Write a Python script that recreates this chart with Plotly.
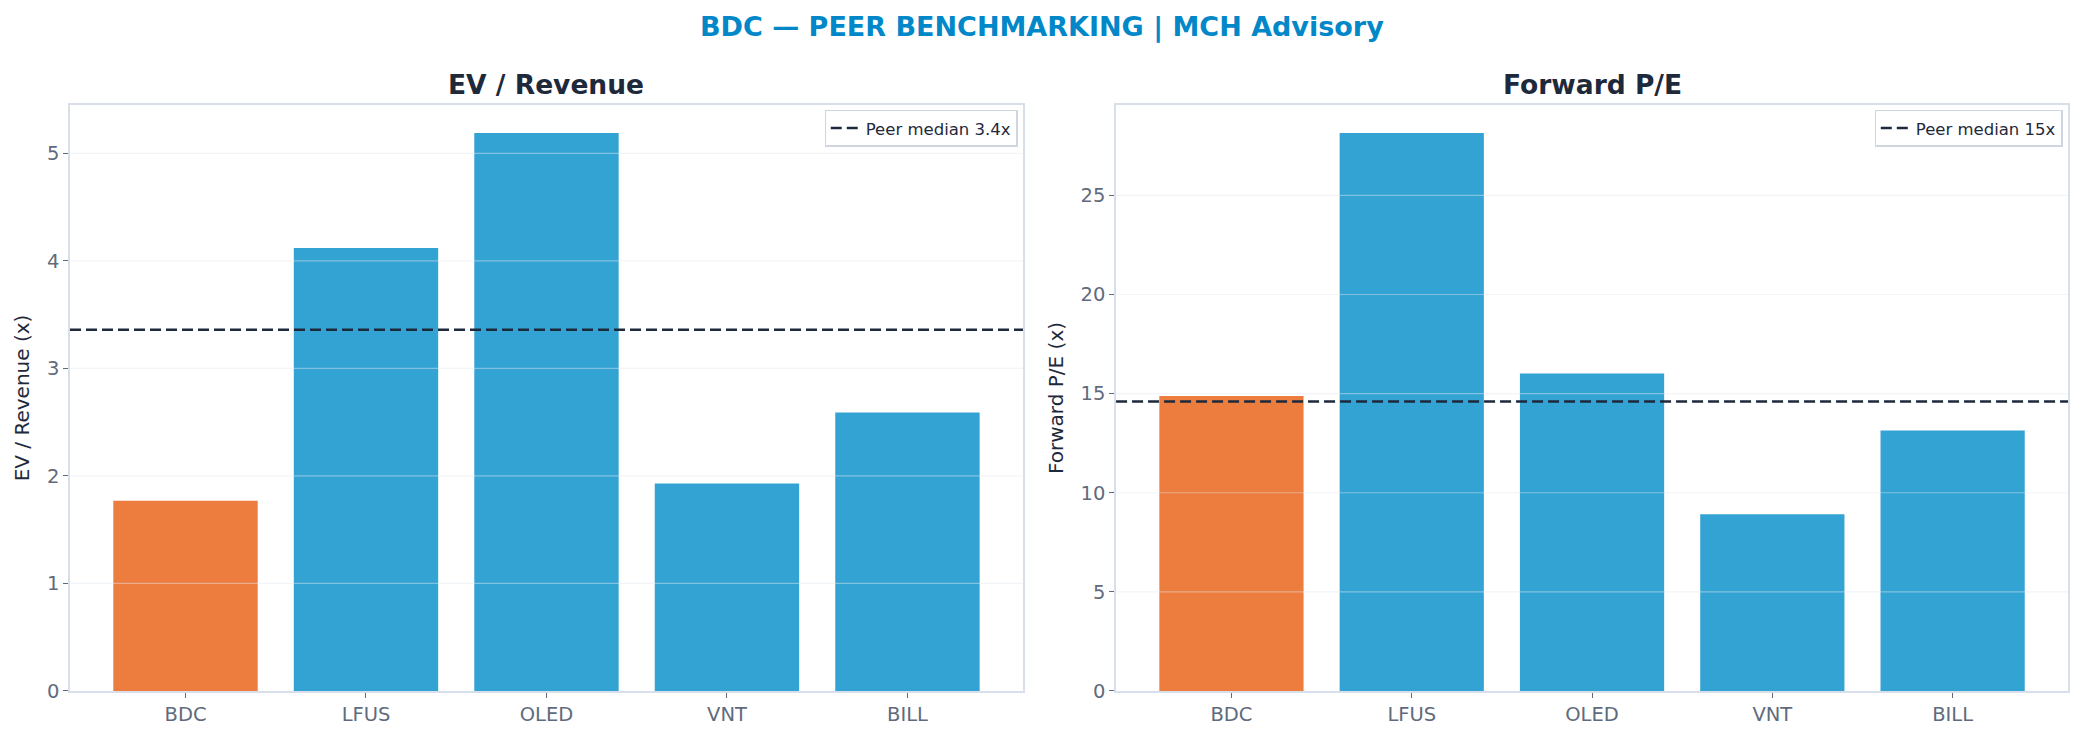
import numpy as np
import plotly.graph_objects as go
from plotly.subplots import make_subplots

tickers = ["BDC", "LFUS", "OLED", "VNT", "BILL"]
ev_revenue = [1.77, 4.12, 5.19, 1.93, 2.59]
fwd_pe = [14.88, 28.15, 16.02, 8.91, 13.14]
ev_median = 3.36
pe_median = 14.6
ev_median_label = "Peer median 3.4x"
pe_median_label = "Peer median 15x"

ORANGE = "#ED7D3E"
BLUE = "#33A3D3"
DARK = "#1e293b"
TICK = "#5f6b7d"
SPINE = "#d8dfea"
FONT = "DejaVu Sans"
DASH = "11px,5px"

fig = make_subplots(rows=1, cols=2)

colors = [ORANGE if t == "BDC" else BLUE for t in tickers]
fig.add_trace(go.Bar(x=tickers, y=ev_revenue, marker=dict(color=colors, line=dict(width=0)),
                     width=0.8, showlegend=False), row=1, col=1)
fig.add_trace(go.Bar(x=tickers, y=fwd_pe, marker=dict(color=colors, line=dict(width=0)),
                     width=0.8, showlegend=False), row=1, col=2)

fig.add_trace(go.Scatter(x=[None], y=[None], mode="lines", name=ev_median_label,
                         line=dict(color=DARK, dash=DASH, width=2.5), legend="legend"), row=1, col=1)
fig.add_trace(go.Scatter(x=[None], y=[None], mode="lines", name=pe_median_label,
                         line=dict(color=DARK, dash=DASH, width=2.5), legend="legend2"), row=1, col=2)

for xr, yr, med in [("x", "y", ev_median), ("x2", "y2", pe_median)]:
    fig.add_shape(type="line", xref=f"{xr} domain", yref=yr, x0=0, x1=1, y0=med, y1=med,
                  line=dict(color=DARK, dash=DASH, width=2.5), layer="above")

ymax1 = max(ev_revenue) * 1.05
ymax2 = max(fwd_pe) * 1.05
n = len(tickers)
xrange_ = [-0.4 - 0.05 * (n - 0.2), n - 1 + 0.4 + 0.05 * (n - 0.2)]

for yr, ymax, dt in [("y", ymax1, 1), ("y2", ymax2, 5)]:
    for v in np.arange(dt, ymax, dt):
        fig.add_shape(type="line", xref=("x domain" if yr == "y" else "x2 domain"), yref=yr,
                      x0=0, x1=1, y0=v, y1=v,
                      line=dict(color="rgba(226,232,240,0.45)", width=1.2), layer="above")

axis_common = dict(showline=True, linecolor=SPINE, linewidth=1.5, mirror=True,
                   ticks="outside", ticklen=5, tickcolor=TICK, tickwidth=1.2,
                   tickfont=dict(family=FONT, size=19.5, color=TICK), showgrid=False, zeroline=False,
                   automargin=False)

Y0, Y1 = 0.0675, 0.8583

fig.update_layout(
    width=2083, height=741,
    margin=dict(l=0, r=0, t=0, b=0, autoexpand=False),
    paper_bgcolor="white", plot_bgcolor="white",
    font=dict(family=FONT),
    xaxis=dict(domain=[0.0336, 0.4911], range=xrange_, **axis_common),
    xaxis2=dict(domain=[0.5358, 0.9928], range=xrange_, **axis_common),
    yaxis=dict(domain=[Y0, Y1], range=[0, ymax1], dtick=1,
               title=dict(text="EV / Revenue (x)", font=dict(family=FONT, size=20, color=DARK), standoff=12),
               **axis_common),
    yaxis2=dict(domain=[Y0, Y1], range=[0, ymax2], dtick=5,
                title=dict(text="Forward P/E (x)", font=dict(family=FONT, size=20, color=DARK), standoff=12),
                **axis_common),
    legend=dict(x=0.4885, y=0.852, xanchor="right", yanchor="top",
                bgcolor="white", bordercolor="#cfd6df", borderwidth=1.2,
                font=dict(family=FONT, size=16.5, color=DARK)),
    legend2=dict(x=0.9902, y=0.852, xanchor="right", yanchor="top",
                 bgcolor="white", bordercolor="#cfd6df", borderwidth=1.2,
                 font=dict(family=FONT, size=16.5, color=DARK)),
    annotations=[
        dict(text="<b>BDC — PEER BENCHMARKING | MCH Advisory</b>", x=0.5, y=0.9642,
             xref="paper", yref="paper", xanchor="center", yanchor="middle", showarrow=False,
             font=dict(family=FONT, size=27, color="#0288C8")),
        dict(text="<b>EV / Revenue</b>", x=(0.0336 + 0.4911) / 2, y=0.8866,
             xref="paper", yref="paper", xanchor="center", yanchor="middle", showarrow=False,
             font=dict(family=FONT, size=26.5, color=DARK)),
        dict(text="<b>Forward P/E</b>", x=(0.5358 + 0.9928) / 2, y=0.8866,
             xref="paper", yref="paper", xanchor="center", yanchor="middle", showarrow=False,
             font=dict(family=FONT, size=26.5, color=DARK)),
    ],
)

fig.write_html("out.html")
